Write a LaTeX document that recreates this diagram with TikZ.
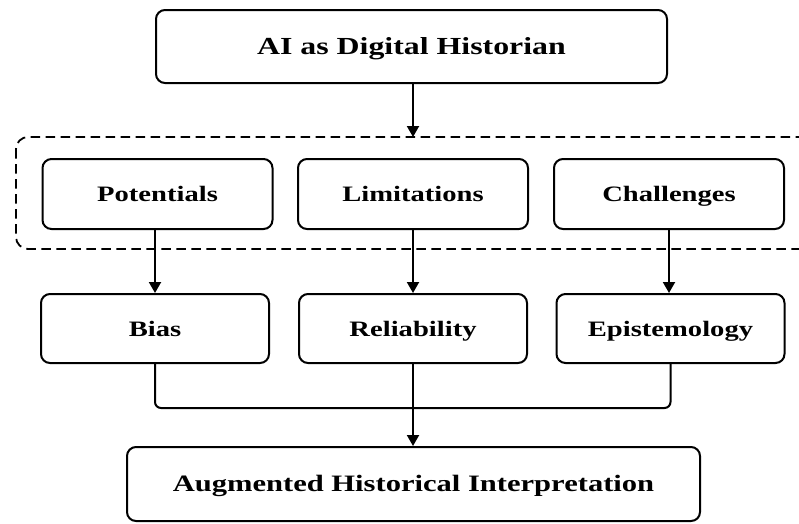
\documentclass[tikz,border=0pt]{standalone}
\usepackage{fontspec}
\setmainfont[FakeStretch=1.3]{Liberation Serif}
\usetikzlibrary{arrows.meta}
\begin{document}
\begin{tikzpicture}[x=1pt,y=-1pt,
  box/.style={draw, line width=2pt, rounded corners=9pt, inner sep=0pt,
    font=\fontsize{22}{26}\selectfont\bfseries, align=center,
    text height=15pt, text depth=0pt},
  link/.style={line width=2pt},
  arr/.style={link, -{Triangle[length=11pt,width=12pt]}},
  group/.style={draw, line width=1.8pt, dash pattern=on 9.5pt off 5.5pt, rounded corners=12pt}]
  \useasboundingbox (0,0) rectangle (799,523);
  \clip (0,0) rectangle (799,523);

  % dashed frame around the three aspects
  \draw[group] (16,137) rectangle (830,249);

  \node[box, minimum width=511pt, minimum height=73pt, font=\fontsize{24.5}{28}\selectfont\bfseries, text height=16pt] (top) at (411.5,46.5) {AI as Digital Historian};

  \node[box, minimum width=230pt, minimum height=70pt] (pot) at (157.5,194) {Potentials};
  \node[box, minimum width=230pt, minimum height=70pt] (lim) at (413,194) {Limitations};
  \node[box, minimum width=230pt, minimum height=70pt] (cha) at (669,194) {Challenges};

  \node[box, minimum width=228pt, minimum height=69pt] (bia) at (155,328.5) {Bias};
  \node[box, minimum width=228pt, minimum height=69pt] (rel) at (413,328.5) {Reliability};
  \node[box, minimum width=228pt, minimum height=69pt] (epi) at (670.5,328.5) {Epistemology};

  \node[box, minimum width=573pt, minimum height=74pt, font=\fontsize{23.5}{27}\selectfont\bfseries] (aug) at (413.5,484) {Augmented Historical Interpretation};

  \coordinate (frametop) at (413,137);
  \coordinate (join) at (413,408);

  \draw[arr] (top.south -| frametop) -- (frametop);
  \draw[arr] (pot.south -| bia.south) -- (bia.north);
  \draw[arr] (lim.south) -- (rel.north);
  \draw[arr] (cha.south) -- (cha.south |- epi.north);
  \draw[link, rounded corners=6pt] (bia.south) |- (join) -| (epi.south);
  \draw[arr] (rel.south) -- (aug.north -| rel.south);
\end{tikzpicture}
\end{document}
